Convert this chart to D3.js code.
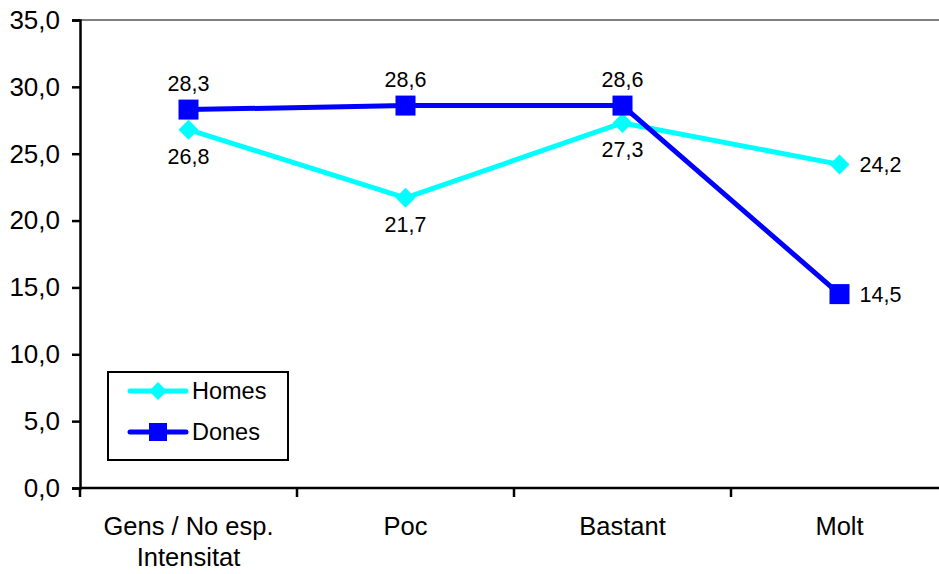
<!DOCTYPE html>
<html><head><meta charset="utf-8">
<script src="https://cdn.jsdelivr.net/npm/d3@7"></script>
<style>body{margin:0;background:#fff;} svg{display:block;font-family:"Liberation Sans",Arial,sans-serif;}</style>
</head><body>
<svg id="c" width="939" height="574"></svg>
<script>
const categories = [["Gens / No esp.","Intensitat"],["Poc"],["Bastant"],["Molt"]];
const homes = [26.8, 21.7, 27.3, 24.2];
const dones = [28.3, 28.6, 28.6, 14.5];
const yTicks = [0,5,10,15,20,25,30,35];
const seriesNames = ["Homes","Dones"];

const svg = d3.select("#c");
const x = d3.scaleBand().domain(d3.range(categories.length)).range([80, 948]);
const y = d3.scaleLinear().domain([0, 35]).range([488, 20]);
const fmt = v => d3.format(".1f")(v).replace(".", ",");

// top grey border
svg.append("line").attr("x1",80).attr("x2",939).attr("y1",y(35)).attr("y2",y(35))
  .attr("stroke","#808080").attr("stroke-width",2);

// y axis
const ya = svg.append("g").attr("transform","translate(80,0)")
  .call(d3.axisLeft(y).tickValues(yTicks).tickFormat(fmt).tickSize(8).tickPadding(12));
ya.select(".domain").attr("stroke","#000").attr("stroke-width",2.5);
ya.selectAll(".tick line").attr("stroke","#000").attr("stroke-width",2.5);
ya.selectAll("text").attr("font-size",26).attr("fill","#000").attr("font-family","Liberation Sans, Arial, sans-serif");

// x axis
svg.append("line").attr("x1",80).attr("x2",939).attr("y1",y(0)).attr("y2",y(0))
  .attr("stroke","#000").attr("stroke-width",2.5);
const xt = d3.range(categories.length);
svg.selectAll(".xtick").data(xt).enter().append("line")
  .attr("x1",d=>x(d)).attr("x2",d=>x(d)).attr("y1",y(0)).attr("y2",y(0)+9)
  .attr("stroke","#000").attr("stroke-width",2.5);
const xl = svg.selectAll(".xl").data(categories).enter().append("text")
  .attr("x",(d,i)=>x(i)+x.bandwidth()/2).attr("y",535)
  .attr("text-anchor","middle").attr("font-size",25.5).attr("fill","#000");
xl.each(function(d){
  const t = d3.select(this);
  d.forEach((s,j)=>t.append("tspan").attr("x",t.attr("x")).attr("dy",j?31:0).text(s));
});

const cx = i => x(i) + x.bandwidth()/2;
const line = d3.line().x((d,i)=>cx(i)).y(d=>y(d));

// Homes
svg.append("path").datum(homes).attr("d",line).attr("fill","none")
  .attr("stroke","#00FFFF").attr("stroke-width",5).attr("stroke-linejoin","round");
svg.selectAll(".hm").data(homes).enter().append("path")
  .attr("transform",(d,i)=>`translate(${cx(i)},${y(d)})`)
  .attr("d","M0,-10L10,0L0,10L-10,0Z").attr("fill","#00FFFF");

// Dones
svg.append("path").datum(dones).attr("d",line).attr("fill","none")
  .attr("stroke","#0000FF").attr("stroke-width",5).attr("stroke-linejoin","round");
svg.selectAll(".dm").data(dones).enter().append("rect")
  .attr("x",(d,i)=>cx(i)-10).attr("y",d=>y(d)-10).attr("width",20).attr("height",20)
  .attr("fill","#0000FF");

// labels
const last = categories.length - 1;
svg.selectAll(".hl").data(homes).enter().append("text")
  .attr("x",(d,i)=> i===last ? cx(i)+20 : cx(i))
  .attr("y",(d,i)=> i===last ? y(d) : y(d)+34)
  .attr("dy",(d,i)=> i===last ? "0.35em" : 0)
  .attr("text-anchor",(d,i)=> i===last ? "start":"middle")
  .attr("font-size",21.5).attr("fill","#000").text(fmt);
svg.selectAll(".dl").data(dones).enter().append("text")
  .attr("x",(d,i)=> i===last ? cx(i)+20 : cx(i))
  .attr("y",(d,i)=> i===last ? y(d) : y(d)-19)
  .attr("dy",(d,i)=> i===last ? "0.35em" : 0)
  .attr("text-anchor",(d,i)=> i===last ? "start":"middle")
  .attr("font-size",21.5).attr("fill","#000").text(fmt);

// legend
const lg = svg.append("g");
lg.append("rect").attr("x",108).attr("y",372).attr("width",180).attr("height",88)
  .attr("fill","#fff").attr("stroke","#000").attr("stroke-width",2);
const colors = ["#00FFFF","#0000FF"];
const ly = [391, 432];
seriesNames.forEach((n,i)=>{
  lg.append("line").attr("x1",130).attr("x2",186).attr("y1",ly[i]).attr("y2",ly[i])
    .attr("stroke",colors[i]).attr("stroke-width",5).attr("stroke-linecap","round");
  if(i===0) lg.append("path").attr("transform",`translate(158,${ly[i]})`)
    .attr("d","M0,-9L9,0L0,9L-9,0Z").attr("fill",colors[i]);
  else lg.append("rect").attr("x",149).attr("y",ly[i]-9).attr("width",18).attr("height",18).attr("fill",colors[i]);
  lg.append("text").attr("x",192).attr("y",ly[i]).attr("dy","0.35em")
    .attr("font-size",23.5).attr("fill","#000").text(n);
});
</script>
</body></html>
